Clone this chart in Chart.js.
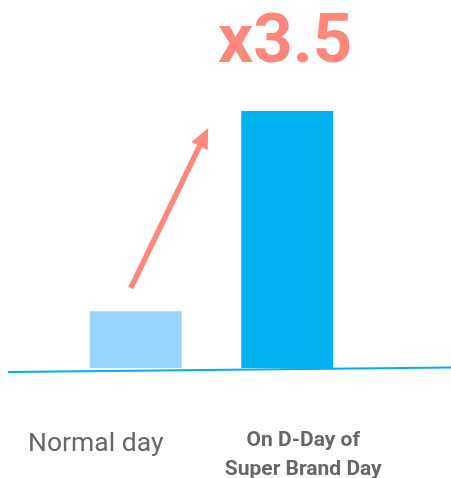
<!DOCTYPE html>
<html>
<head>
<meta charset="utf-8">
<script src="https://cdn.jsdelivr.net/npm/chart.js@4/dist/chart.umd.min.js"></script>
<style>
  html, body { margin: 0; padding: 0; background: #ffffff; }
  #wrap { position: relative; width: 451px; height: 478px; }
</style>
</head>
<body>
<div id="wrap"><canvas id="chart"></canvas></div>
<script>
// Daily volume, relative to a normal day
const categories = ['Normal day', 'On D-Day of\nSuper Brand Day'];
const volumes = [1, 3.5];
const barColors = ['#99D3FF', '#00B1F0'];

const ACCENT = '#FF877B';
const LINE_BLUE = '#00AEEF';
const TEXT_GREY = '#666666';

// Ground line, growth arrow, multiplier headline and category labels
const decorations = {
  id: 'decorations',
  beforeDatasetsDraw(chart) {
    const { ctx, chartArea } = chart;
    ctx.save();
    ctx.strokeStyle = LINE_BLUE;
    ctx.lineWidth = 2;
    ctx.beginPath();
    ctx.moveTo(8, chartArea.bottom + 4);
    ctx.lineTo(451, chartArea.bottom - 0.5);
    ctx.stroke();
    ctx.restore();
  },
  afterDatasetsDraw(chart) {
    const { ctx } = chart;
    const bars = chart.getDatasetMeta(0).data;
    const b1 = bars[0], b2 = bars[1];

    // growth arrow
    const sx = b1.x - 5, sy = b1.y - 23;
    const ex = b2.x - 79, ey = b2.y + 17;
    const ang = Math.atan2(ey - sy, ex - sx);
    const headLen = 20, headHalf = 9;
    const bx = ex - headLen * Math.cos(ang), by = ey - headLen * Math.sin(ang);
    ctx.save();
    ctx.strokeStyle = ACCENT;
    ctx.fillStyle = ACCENT;
    ctx.lineWidth = 5.5;
    ctx.beginPath();
    ctx.moveTo(sx, sy);
    ctx.lineTo(bx + 2 * Math.cos(ang), by + 2 * Math.sin(ang));
    ctx.stroke();
    ctx.beginPath();
    ctx.moveTo(ex, ey);
    ctx.lineTo(bx + headHalf * Math.sin(ang), by - headHalf * Math.cos(ang));
    ctx.lineTo(bx - headHalf * Math.sin(ang), by + headHalf * Math.cos(ang));
    ctx.closePath();
    ctx.fill();

    // multiplier headline
    const ratio = volumes[1] / volumes[0];
    ctx.font = 'bold 69px Roboto';
    ctx.textAlign = 'center';
    ctx.textBaseline = 'alphabetic';
    ctx.fillText('x' + ratio.toFixed(1), b2.x - 2, 62);

    // category labels
    ctx.fillStyle = TEXT_GREY;
    ctx.font = '26.5px Roboto';
    ctx.fillText(categories[0], b1.x - 40, 451);
    ctx.font = 'bold 21px Roboto';
    const lines = categories[1].split('\n');
    lines.forEach((t, i) => ctx.fillText(t, b2.x + 16, 446 + i * 29));
    ctx.restore();
  }
};

new Chart(document.getElementById('chart'), {
  type: 'bar',
  data: {
    labels: categories,
    datasets: [{
      data: volumes,
      backgroundColor: barColors,
      borderWidth: 0,
      barPercentage: 0.607,
      categoryPercentage: 1
    }]
  },
  options: {
    responsive: true,
    maintainAspectRatio: false,
    animation: false,
    layout: { padding: { top: 111, bottom: 110, left: 60, right: 88 } },
    plugins: { legend: { display: false }, tooltip: { enabled: false } },
    scales: {
      x: { display: false },
      y: { display: false, min: 0.29, max: 3.5 }
    }
  },
  plugins: [decorations]
});
</script>
</body>
</html>
